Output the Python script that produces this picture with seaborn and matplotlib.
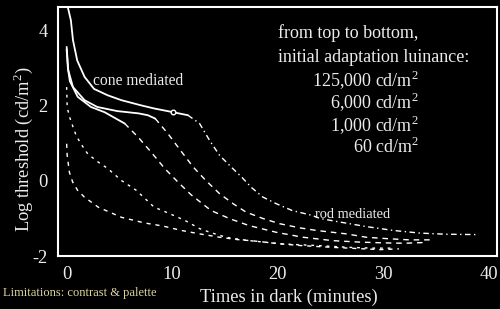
import matplotlib
matplotlib.use("Agg")
import matplotlib.pyplot as plt
import seaborn as sns

# ---- data ----
t_125000 = [0.05, 0.4, 0.6, 1.0, 1.7, 2.6, 3.9, 5.2, 7.1, 8.3, 10.1, 11.5, 12.6, 13.55,
            14.5, 15.6, 16.6, 17.5, 18.6, 19.9, 21.4, 23.3, 24.0, 26.0, 28.5, 31.0,
            33.5, 36.0, 39.0]
y_125000 = [4.7, 4.28, 3.75, 3.21, 2.77, 2.45, 2.28, 2.15, 2.01, 1.93, 1.83, 1.75, 1.53,
            1.08, 0.68, 0.37, 0.10, -0.17, -0.43, -0.61, -0.79, -0.92, -1.0, -1.1,
            -1.22, -1.32, -1.39, -1.42, -1.43]

t_6000 = [0.0, 0.15, 0.6, 1.7, 2.9, 4.8, 6.8, 7.7, 8.4, 9.6, 10.8, 12.0, 13.2, 14.5,
          15.8, 17.0, 18.6, 20.2, 22.1, 23.7, 26.5, 28.4, 30.5, 32.5, 34.5]
y_6000 = [3.57, 2.95, 2.5, 2.15, 1.97, 1.86, 1.8, 1.75, 1.66, 1.26, 0.81, 0.37, 0.01,
          -0.34, -0.61, -0.83, -1.0, -1.14, -1.25, -1.32, -1.41, -1.5, -1.54, -1.57, -1.57]

t_1000 = [0.0, 0.12, 0.3, 1.05, 2.3, 3.6, 5.5, 6.76, 8.0, 9.3, 10.55, 11.8, 13.7, 15.5,
          17.3, 19.9, 22.4, 25.2, 27.8, 30.0, 32.0, 34.0]
y_1000 = [3.5, 3.0, 2.66, 2.24, 1.97, 1.83, 1.53, 1.17, 0.77, 0.33, -0.03, -0.37, -0.79,
          -1.01, -1.19, -1.37, -1.5, -1.59, -1.63, -1.65, -1.66, -1.64]

t_60 = [0.0, 0.05, 0.28, 0.6, 0.9, 1.35, 2.0, 3.0, 3.9, 5.2, 6.6, 8.3, 9.5, 11.2, 12.6,
        13.6, 15.1, 16.0, 17.3, 20.5, 23.7, 26.8, 29.0, 31.0]
y_60 = [2.5, 1.96, 1.7, 1.44, 1.21, 0.99, 0.72, 0.5, 0.33, 0.01, -0.25, -0.7, -0.84,
        -1.05, -1.27, -1.37, -1.5, -1.54, -1.59, -1.68, -1.72, -1.77, -1.79, -1.79]

t_low = [0.0, 0.05, 0.26, 0.57, 1.04, 1.68, 3.0, 5.2, 7.4, 9.1, 10.9, 12.6, 14.5, 16.1,
         17.8, 20.0, 22.1, 25.2, 27.5, 29.7, 31.5]
y_low = [0.99, 0.68, 0.23, -0.03, -0.25, -0.43, -0.7, -0.97, -1.12, -1.2, -1.32, -1.41,
         -1.5, -1.56, -1.6, -1.67, -1.72, -1.77, -1.8, -1.83, -1.81]

marker_index_125000 = 10  # the small circle on the top curve

x_ticks = [0, 10, 20, 30, 40]
y_ticks = [-2, 0, 2, 4]
legend_lines = ["125,000 cd/m$^2$", "6,000 cd/m$^2$", "1,000 cd/m$^2$", "60 cd/m$^2$"]

# ---- styling ----
sns.set_style("dark", {"axes.facecolor": "black", "figure.facecolor": "black"})
plt.rcParams["font.family"] = ["Liberation Serif", "DejaVu Serif"]
plt.rcParams["mathtext.fontset"] = "custom"
plt.rcParams["mathtext.rm"] = "Liberation Serif"
plt.rcParams["axes.unicode_minus"] = False

TXT = "#ececec"
fig = plt.figure(figsize=(5, 3.09), dpi=100, facecolor="black")
ax = fig.add_axes([0.116, 0.1715, 0.878, 0.8055])
ax.set_facecolor("black")

# (times, values, solid-until index, dashed style)
curves = [
    (t_125000, y_125000, 11, (0, (4, 2.5, 1, 2.5))),
    (t_6000, y_6000, 8, (0, (4, 3.5))),
    (t_1000, y_1000, 6, (0, (4, 3.5))),
    (t_60, y_60, 0, (0, (2, 3.5))),
    (t_low, y_low, 0, (0, (3, 3.5))),
]
for t, y, k, dash in curves:
    if k > 0:
        sns.lineplot(x=t[:k + 1], y=y[:k + 1], ax=ax, color="white", lw=1.3,
                     sort=False, estimator=None)
    sns.lineplot(x=t[k:], y=y[k:], ax=ax, color="white", lw=1.0, linestyle=dash,
                 sort=False, estimator=None)

sns.scatterplot(x=[t_125000[marker_index_125000]], y=[y_125000[marker_index_125000]],
                ax=ax, s=11, facecolor="black", edgecolor="white", linewidth=1.0,
                zorder=5)

ax.set_xlim(-0.82, 40.8)
ax.set_ylim(-2.0, 4.63)
ax.set_xticks(x_ticks)
ax.set_yticks(y_ticks)
ax.tick_params(axis="both", direction="out", length=4.5, width=1.5, colors="white",
               labelcolor=TXT, labelsize=13.3, pad=3)
ax.grid(False)
for s in ax.spines.values():
    s.set_visible(True)
    s.set_color("white")
    s.set_linewidth(1.5)

ax.set_xlabel("Times in dark (minutes)", fontsize=13.3, color=TXT, va="baseline")
ax.xaxis.set_label_coords(0.526, -0.1835)
ax.set_ylabel("Log threshold (cd/m$^2$)", fontsize=13.3, color=TXT, ha="center",
              va="center")
ax.yaxis.set_label_coords(-0.078, 0.43)

ax.text(2.52, 2.55, "cone mediated", fontsize=11.2, color=TXT, va="baseline")
ax.text(23.56, -0.98, "rod mediated", fontsize=10.4, color=TXT, va="baseline")

ax.text(0.501, 0.8755, "from top to bottom,", transform=ax.transAxes, fontsize=13,
        color=TXT, va="baseline", ha="left")
ax.text(0.501, 0.779, "initial adaptation luinance:", transform=ax.transAxes,
        fontsize=13, color=TXT, va="baseline", ha="left")
for i, line in enumerate(legend_lines):
    ax.text(0.822, 0.683 - i * 0.0897, line, transform=ax.transAxes, fontsize=13,
            color=TXT, va="baseline", ha="right")

fig.text(0.006, 0.042, "Limitations: contrast & palette", fontsize=9, color="#dcd5a2",
         va="baseline", ha="left")

fig.savefig("out.png", dpi=100, facecolor="black")
